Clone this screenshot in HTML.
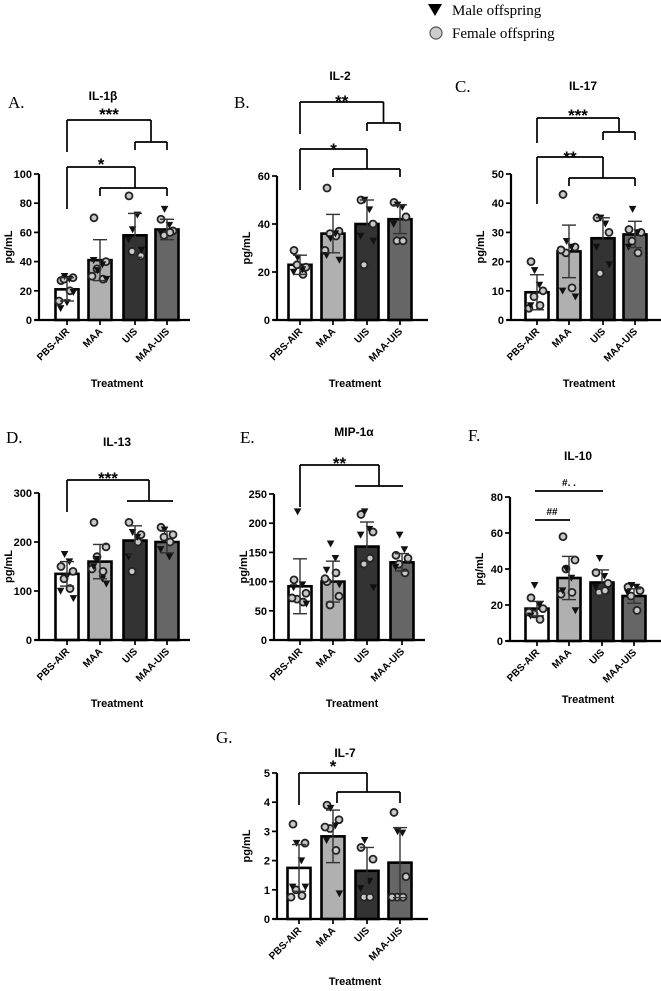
<!DOCTYPE html>
<html><head><meta charset="utf-8">
<style>
html,body{margin:0;padding:0;background:#fff;}
svg{display:block;}
text{font-family:"Liberation Sans",Arial,sans-serif;}
.serif{font-family:"Liberation Serif","Times New Roman",serif;}
</style></head>
<body>
<svg id="fig" width="661" height="991" viewBox="0 0 661 991" xmlns="http://www.w3.org/2000/svg">
  <g>
    <path d="M428,4 L442,4 L435,16 Z" fill="#000"/>
    <text x="452" y="15" class="serif" font-size="15">Male offspring</text>
    <circle cx="436" cy="33" r="6" fill="#ccc" stroke="#555" stroke-width="1.2"/>
    <text x="452" y="38" class="serif" font-size="15">Female offspring</text>
  </g>
</svg>
<script>
const categories = ["PBS-AIR","MAA","UIS","MAA-UIS"];
const barColors = ["#ffffff","#b0b0b0","#333333","#666666"];

const aMeans=[21,41,58,62], aSD=[8,14,15,7];
const aMale=[[30,28,8,19,12],[34,38,41,28],[62,72,55,48],[76,65,60]];
const aFemale=[[27,29,28,20,13],[70,40,35,28,30],[85,44,47],[69,61,58,60]];
const aTicks=[0,20,40,60,80,100];

const bMeans=[23,36,40,42], bSD=[4,8,10,6];
const bMale=[[26,21,20],[34,36,27,25],[50,46,35,33],[48,47,40]];
const bFemale=[[29,22,23,19],[55,37,36,35,29],[50,40,23],[49,43,33,33]];
const bTicks=[0,20,40,60];

const cMeans=[9.5,23.5,28,29.3], cSD=[6,9,7,4.5];
const cMale=[[17,12,5],[27,25,10,8],[35,33,25,19],[38,30,25]];
const cFemale=[[20,10,8,5,4],[43,25,23,11,24],[35,30,16],[31,30,27,23]];
const cTicks=[0,10,20,30,40,50];

const dMeans=[135,160,203,200], dSD=[25,35,30,22];
const dMale=[[175,160,100,85,130],[165,125,150,115],[220,210,170],[225,170,185]];
const dFemale=[[150,140,125,105],[240,190,170,140,145],[240,215,140,200],[230,215,210,200]];
const dTicks=[0,100,200,300];

const eMeans=[92,100,160,133], eSD=[47,35,42,15];
const eMale=[[220,95,90,62],[165,140,120,95],[220,190,180,90],[180,155,125]];
const eFemale=[[103,80,70,65,72],[100,75,60,115,105],[215,185,130,140],[145,140,130,115]];
const eTicks=[0,50,100,150,200,250];

const fMeans=[18,35,32.5,25], fSD=[4,12,7,4];
const fMale=[[31,20,14],[40,35,28,17],[46,36,30],[31,30,27]];
const fFemale=[[24,18,15,12,16],[58,45,40,27,26],[38,32,27,28],[30,28,25,17]];
const fTicks=[0,20,40,60,80];

const gMeans=[1.75,2.83,1.65,1.93], gSD=[0.8,0.9,0.8,1.2];
const gMale=[[2.6,2.0,1.1,1.1],[3.8,3.2,2.7,0.87],[2.7,1.3,1.05],[3.0,2.95]];
const gFemale=[[3.25,2.6,1.0,0.8,0.75],[3.9,3.4,3.1,2.35,3.15],[2.45,2.05,0.75,0.75],[3.65,1.45,0.75,0.75,0.75]];
const gTicks=[0,1,2,3,4,5];

const NS="http://www.w3.org/2000/svg";
const svg=document.getElementById('fig');
function mk(tag,attrs,parent){const e=document.createElementNS(NS,tag);for(const k in attrs)e.setAttribute(k,attrs[k]);(parent||svg).appendChild(e);return e;}

const panels=[
 {id:'a',letter:'A.',title:'IL-1β',ax:39,base:320,top:174,bars:[67,100,135,167],lx:8,ly:108,tx:103,ty:100,means:aMeans,sd:aSD,male:aMale,female:aFemale,ticks:aTicks,treat:387,
  br:{type:'nested',y1:120,leg1:152,y2:142,y3:167,leg3:209,y4:188,s1:110,s2:160,l1:'***',l2:'*'}},
 {id:'b',letter:'B.',title:'IL-2',ax:277,base:320,top:176,bars:[300,333,367,400],lx:234,ly:108,tx:340,ty:80,means:bMeans,sd:bSD,male:bMale,female:bFemale,ticks:bTicks,treat:387,
  br:{type:'nested',y1:102,leg1:134,y2:123,y3:149,leg3:190,y4:169,s1:97,s2:145,l1:'**',l2:'*'}},
 {id:'c',letter:'C.',title:'IL-17',ax:511,base:320,top:174,bars:[537,569,603,635],lx:455,ly:92,tx:583,ty:90,means:cMeans,sd:cSD,male:cMale,female:cFemale,ticks:cTicks,treat:387,
  br:{type:'nested',y1:118,leg1:143,y2:132,y3:157,leg3:204,y4:178,s1:111,s2:153,l1:'***',l2:'**'}},
 {id:'d',letter:'D.',title:'IL-13',ax:39,base:640,top:493,bars:[67,100,135,167],lx:6,ly:443,tx:117,ty:446,means:dMeans,sd:dSD,male:dMale,female:dFemale,ticks:dTicks,treat:707,
  br:{type:'single',y1:480,leg1:512,mx:149,y2:501,x2a:127,x2b:173,s1:474,l1:'***'}},
 {id:'e',letter:'E.',title:'MIP-1α',ax:274,base:640,top:494,bars:[300,333,367,402],lx:240,ly:443,tx:354,ty:436,means:eMeans,sd:eSD,male:eMale,female:eFemale,ticks:eTicks,treat:707,
  br:{type:'single',y1:465,leg1:507,mx:379,y2:486,x2a:355,x2b:403,s1:459,l1:'**'}},
 {id:'f',letter:'F.',title:'IL-10',ax:510,base:641,top:497,bars:[537,569,602,634],lx:468,ly:441,tx:578,ty:460,means:fMeans,sd:fSD,male:fMale,female:fFemale,ticks:fTicks,treat:703,
  br:{type:'hash'}},
 {id:'g',letter:'G.',title:'IL-7',ax:277,base:919,top:773,bars:[299,333,367,400],lx:216,ly:743,tx:345,ty:757,means:gMeans,sd:gSD,male:gMale,female:gFemale,ticks:gTicks,treat:985,
  br:{type:'g'}}
];

function line(g,x1,y1,x2,y2,name){const l=mk('line',{x1:x1,y1:y1,x2:x2,y2:y2,stroke:'#000','stroke-width':1.7},g);
 
 return l;}
function txt(g,x,y,s,size,name,extra){const t=mk('text',Object.assign({x:x,y:y,'font-size':size,'font-weight':'bold','text-anchor':'middle'},extra||{}),g);t.textContent=s;
 
 return t;}

const jitter=[0,-6,6,-3,3,-8,8];
panels.forEach(p=>{
 const g=mk('g',{});
 
 
 const maxV=p.ticks[p.ticks.length-1];
 const y=v=>p.base-(v/maxV)*(p.base-p.top);
 const lt=mk('text',{x:p.lx,y:p.ly,'font-size':17},g);lt.setAttribute('class','serif');lt.textContent=p.letter;
 
 
 txt(g,p.tx,p.ty,p.title,12,'chart-title');
 const bw=23;
 p.means.forEach((m,i)=>{
  const cx=p.bars[i];
  const r=mk('rect',{x:cx-bw/2,y:y(m),width:bw,height:p.base-y(m),fill:barColors[i],stroke:'#000','stroke-width':2.6},g);
  
  
 });
 p.means.forEach((m,i)=>{
  const cx=p.bars[i];
  p.female[i].forEach((v,k)=>{
   const c=mk('circle',{cx:cx+jitter[(k+1)%7],cy:y(v),r:3.5,fill:'#c8c8c8',stroke:'#222','stroke-width':1.8},g);
   
   
  });
  p.male[i].forEach((v,k)=>{
   const px=cx+jitter[(k+3)%7]*0.8, py=y(v);
   const t=mk('path',{d:`M${px-3.8},${py-3.2} L${px+3.8},${py-3.2} L${px},${py+3.8} Z`,fill:'#111'},g);
   
   
  });
  const hi=y(m+p.sd[i]), lo=y(Math.max(0,m-p.sd[i]));
  const eg=mk('g',{stroke:'#333','stroke-width':1.4},g);
  
  
  mk('line',{x1:cx,y1:hi,x2:cx,y2:lo},eg);
  mk('line',{x1:cx-7,y1:hi,x2:cx+7,y2:hi},eg);
  mk('line',{x1:cx-7,y1:lo,x2:cx+7,y2:lo},eg);
 });
 const yAx=mk('line',{x1:p.ax,y1:p.top,x2:p.ax,y2:p.base,stroke:'#000','stroke-width':2.2},g);
 
 
 const xAx=mk('line',{x1:p.ax-4,y1:p.base,x2:p.ax+151,y2:p.base,stroke:'#000','stroke-width':2.2},g);
 
 
 p.ticks.forEach(t=>{
  const yy=y(t);
  line(g,p.ax-5,yy,p.ax,yy,'y-tick');
  txt(g,p.ax-7,yy+4,String(t),11,'y-tick-label',{'text-anchor':'end'});
 });
 p.bars.forEach((cx,i)=>{
  line(g,cx,p.base,cx,p.base+5,'x-tick');
  txt(g,cx+3,p.base+12,categories[i],10,'x-tick-label',{'text-anchor':'end',transform:`rotate(-45 ${cx+3} ${p.base+12})`});
 });
 const my=(p.base+p.top)/2;
 txt(g,p.ax-27,my,'pg/mL',11,'y-axis-title',{transform:`rotate(-90 ${p.ax-27} ${my})`});
 txt(g,p.ax+78,p.treat,'Treatment',11,'x-axis-title');
 const b=p.br, B=p.bars;
 const bg=mk('g',{},g);
 
 
 if(b.type==='nested'){
  const m1=(B[2]+B[3])/2;
  line(bg,B[0],b.leg1,B[0],b.y1,'bracket');line(bg,B[0],b.y1,m1,b.y1,'bracket');line(bg,m1,b.y1,m1,b.y2,'bracket');
  line(bg,B[2],b.y2,B[3],b.y2,'bracket');line(bg,B[2],b.y2,B[2],b.y2+8,'bracket');line(bg,B[3],b.y2,B[3],b.y2+8,'bracket');
  line(bg,B[0],b.leg3,B[0],b.y3,'bracket');line(bg,B[0],b.y3,B[2],b.y3,'bracket');line(bg,B[2],b.y3,B[2],b.y4,'bracket');
  line(bg,B[1],b.y4,B[3],b.y4,'bracket');line(bg,B[1],b.y4,B[1],b.y4+8,'bracket');line(bg,B[3],b.y4,B[3],b.y4+8,'bracket');
  txt(bg,(B[0]+m1)/2,b.s1+10,b.l1,17,'significance-label');
  txt(bg,(B[0]+B[2])/2,b.s2+10,b.l2,17,'significance-label');
 } else if(b.type==='single'){
  line(bg,B[0],b.leg1,B[0],b.y1,'bracket');line(bg,B[0],b.y1,b.mx,b.y1,'bracket');line(bg,b.mx,b.y1,b.mx,b.y2,'bracket');
  line(bg,b.x2a,b.y2,b.x2b,b.y2,'bracket');
  txt(bg,(B[0]+b.mx)/2,b.s1+10,b.l1,17,'significance-label');
 } else if(b.type==='hash'){
  line(bg,535,491,603,491,'bracket');
  txt(bg,569,486,'#. .',10,'significance-label');
  line(bg,535,520,570,520,'bracket');
  txt(bg,552,515,'##',10,'significance-label');
 } else if(b.type==='g'){
  line(bg,B[0],805,B[0],773,'bracket');line(bg,B[0],773,B[2],773,'bracket');line(bg,B[2],773,B[2],792,'bracket');
  line(bg,337,792,400,792,'bracket');line(bg,337,792,337,803,'bracket');line(bg,400,792,400,803,'bracket');
  txt(bg,(B[0]+B[2])/2,772,'*',17,'significance-label');
 }
});
</script>
</body></html>
